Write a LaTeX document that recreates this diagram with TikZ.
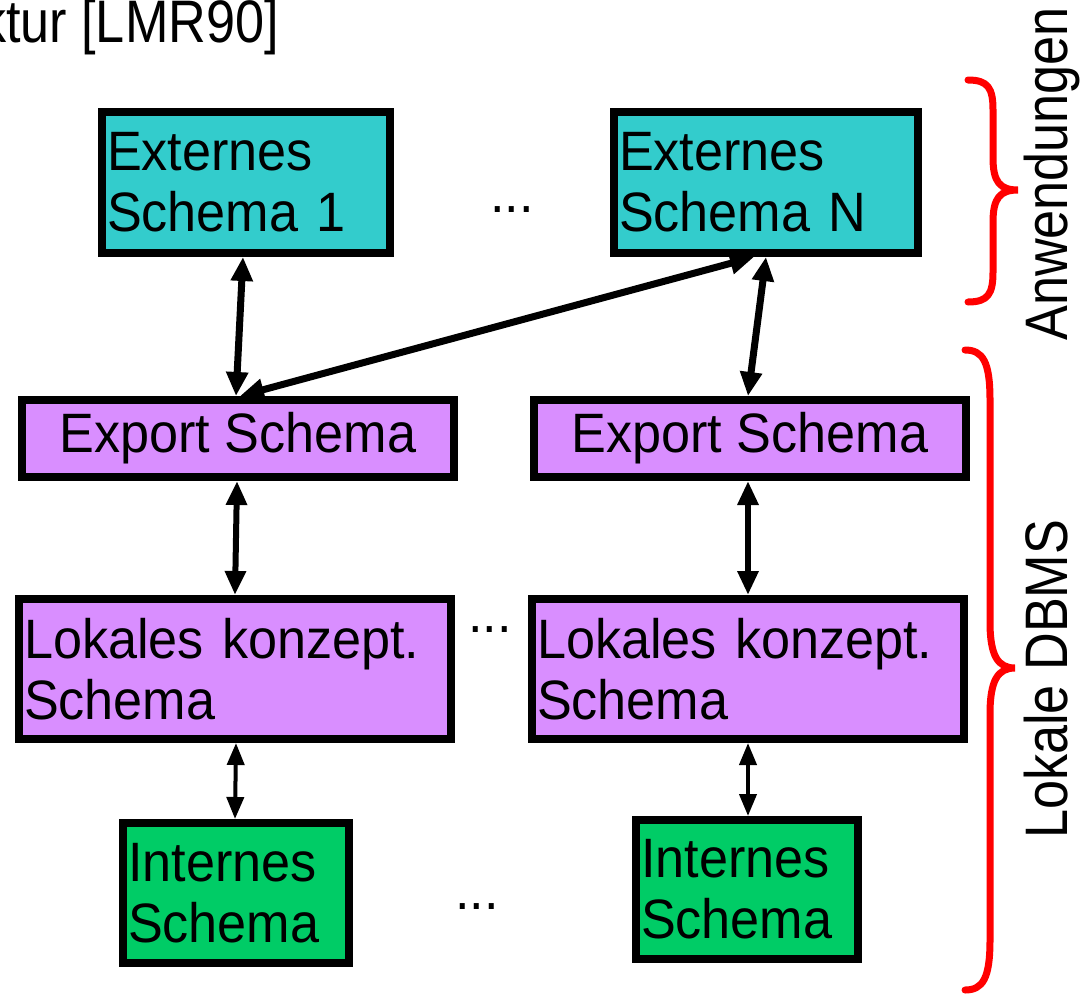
\documentclass[tikz,border=0pt]{standalone}
\usepackage{fontspec}
\setmainfont{Liberation Sans}[FakeStretch=0.94]
\newfontfamily\narrowsans{Liberation Sans}[FakeStretch=0.87]
\usetikzlibrary{arrows.meta}

\definecolor{extfill}{HTML}{33CCCC}
\definecolor{lokfill}{HTML}{D98EFF}
\definecolor{intfill}{HTML}{00CC66}
\definecolor{bracered}{HTML}{FF0000}

\tikzset{
  txt/.style={font=\fontsize{55.5}{61}\selectfont},
  narrowtxt/.style={font=\narrowsans\fontsize{60}{66}\selectfont},
  schemabox/.style={txt, draw=black, line width=8pt, inner xsep=5pt, inner ysep=0pt, align=left},
  extbox/.style={schemabox, fill=extfill},
  lokbox/.style={schemabox, fill=lokfill},
  intbox/.style={schemabox, fill=intfill},
  bigarrow/.style={line width=7pt, {Triangle[length=24pt,width=21pt]}-{Triangle[length=24pt,width=21pt]}},
  midarrow/.style={line width=6pt, {Triangle[length=24pt,width=20pt]}-{Triangle[length=24pt,width=20pt]}},
  smallarrow/.style={line width=4pt, {Triangle[length=22pt,width=17pt]}-{Triangle[length=22pt,width=17pt]}},
  brace/.style={draw=bracered, line width=7pt, line cap=round},
  sidelabel/.style={narrowtxt, rotate=90, anchor=base west, inner sep=0pt},
}

\begin{document}
\begin{tikzpicture}[x=1pt, y=-1pt]
  \useasboundingbox (0,0) rectangle (1081,993);

  % heading (runs off the left edge)
  \node[narrowtxt, anchor=base east, inner sep=0pt] (title) at (279,42) {ktur [LMR90]};

  % external schemas
  \node[extbox, minimum width=288pt, minimum height=141pt, text width=278pt] (e1) at (246,182.5) {Externes\\Schema 1};
  \node[extbox, minimum width=304pt, minimum height=141pt, text width=294pt] (eN) at (766,182.5) {Externes\\Schema N};
  \node[txt, inner sep=0pt] (dotsA) at (512,210) {...};

  % export schemas
  \node[lokbox, minimum width=432pt, minimum height=77pt, align=center] (x1) at (238,438.5) {Export Schema};
  \node[lokbox, minimum width=432pt, minimum height=77pt, align=center] (x2) at (750,438.5) {Export Schema};

  % local conceptual schemas
  \node[lokbox, minimum width=432pt, minimum height=140pt, text width=422pt] (l1) at (235,669) {Lokales konzept.\\Schema};
  \node[lokbox, minimum width=432pt, minimum height=140pt, text width=422pt] (l2) at (748,669) {Lokales konzept.\\Schema};
  \node[txt, inner sep=0pt] (dotsB) at (490,630) {...};

  % internal schemas
  \node[intbox, minimum width=226pt, minimum height=140pt, text width=216pt] (i1) at (236,893) {Internes\\Schema};
  \node[intbox, minimum width=222pt, minimum height=139pt, text width=212pt] (i2) at (747,889.5) {Internes\\Schema};
  \node[txt, inner sep=0pt] (dotsC) at (477,907) {...};

  % mappings between the levels
  \draw[bigarrow] ([xshift=-3pt]e1.south) -- ([xshift=-2pt]x1.north);
  \draw[bigarrow] ([xshift=-12pt]eN.south) -- ([xshift=2pt]x1.north);
  \draw[bigarrow] (eN.south) -- ([xshift=-2pt]x2.north);
  \draw[midarrow] ([xshift=-1pt]x1.south) -- (l1.north);
  \draw[midarrow] ([xshift=-2pt]x2.south) -- (l2.north);
  \draw[smallarrow] ([xshift=1pt]l1.south) -- ([xshift=-1pt]i1.north);
  \draw[smallarrow] (l2.south) -- ([xshift=1pt]i2.north);

  % braces with their labels
  \coordinate (bA1) at (968,80);
  \coordinate (bA2) at (968,302);
  \draw[brace] (bA1) .. controls (988,80) and (993,88) .. (993,110)
    -- (993,158) .. controls (993,182) and (1000,190) .. (1018,190)
    .. controls (1000,190) and (993,198) .. (993,222)
    -- (993,272) .. controls (993,294) and (988,302) .. (bA2);
  \node[sidelabel] (lblA) at (1067,341) {Anwendungen};

  \coordinate (bB1) at (965,350);
  \coordinate (bB2) at (965,990);
  \draw[brace] (bB1) .. controls (983,350) and (990,362) .. (990,400)
    -- (990,622) .. controls (990,656) and (998,668) .. (1015,668)
    .. controls (998,668) and (990,680) .. (990,714)
    -- (990,940) .. controls (990,978) and (983,990) .. (bB2);
  \node[sidelabel] (lblB) at (1067,839) {Lokale DBMS};
\end{tikzpicture}
\end{document}
